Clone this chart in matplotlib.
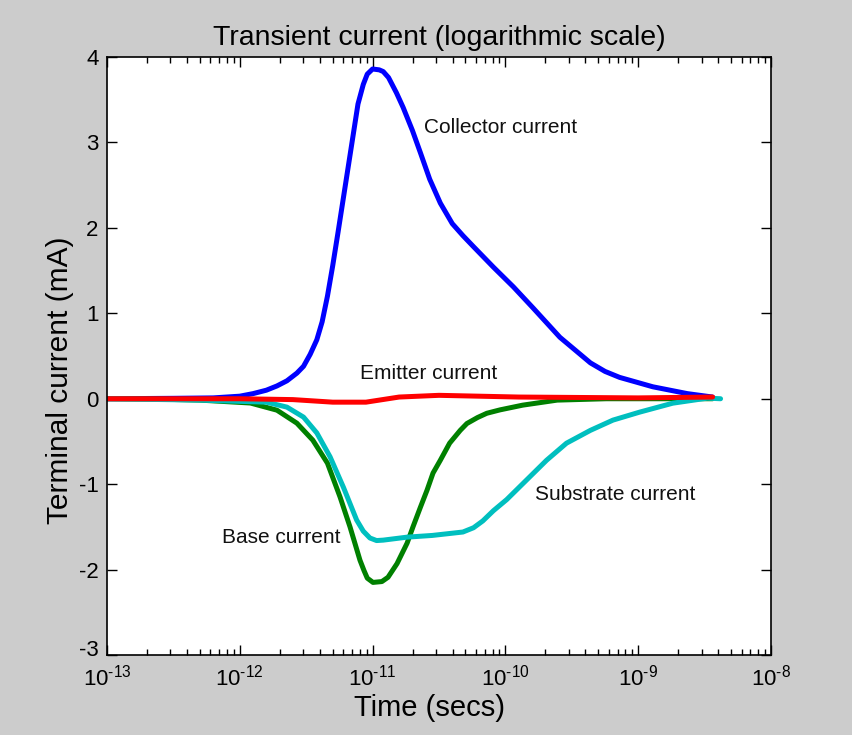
import numpy as np
import matplotlib
matplotlib.use("Agg")
import matplotlib.pyplot as plt
import matplotlib.transforms as mtransforms

plt.rcParams['font.family'] = ['Liberation Sans', 'DejaVu Sans']
plt.rcParams['mathtext.fontset'] = 'custom'
plt.rcParams['mathtext.rm'] = 'Liberation Sans'
plt.rcParams['mathtext.it'] = 'Liberation Sans'
plt.rcParams['axes.unicode_minus'] = False

# log10 of time (s) and current (mA)
collector_logt = [-13.0, -12.5, -12.2, -12.0, -11.9, -11.8, -11.72, -11.645, -11.57, -11.52,
                  -11.47, -11.42, -11.38, -11.34, -11.30, -11.26, -11.22, -11.18, -11.14,
                  -11.11, -11.07, -11.04, -11.0, -10.95, -10.92, -10.88, -10.82, -10.77,
                  -10.70, -10.64, -10.57, -10.49, -10.40, -10.32, -10.24, -10.09, -9.94,
                  -9.79, -9.59, -9.36, -9.25, -9.14, -8.89, -8.63, -8.44]
collector_ma = [0.0, 0.005, 0.01, 0.03, 0.06, 0.10, 0.15, 0.21, 0.30, 0.38,
                0.52, 0.69, 0.90, 1.20, 1.56, 1.95, 2.35, 2.75, 3.15,
                3.45, 3.68, 3.80, 3.86, 3.85, 3.83, 3.76, 3.58, 3.41,
                3.14, 2.88, 2.57, 2.29, 2.05, 1.91, 1.78, 1.54, 1.31,
                1.06, 0.72, 0.42, 0.32, 0.25, 0.14, 0.06, 0.02]

emitter_logt = [-13.0, -12.0, -11.6, -11.3, -11.05, -10.8, -10.5, -10.2, -9.9, -9.0, -8.44]
emitter_ma = [0.0, 0.0, -0.01, -0.04, -0.04, 0.02, 0.04, 0.03, 0.02, 0.01, 0.02]

base_logt = [-13.0, -12.6, -12.3, -11.92, -11.72, -11.57, -11.45, -11.34, -11.245, -11.17,
             -11.095, -11.065, -11.04, -10.997, -10.93, -10.884, -10.816, -10.74, -10.696,
             -10.64, -10.59, -10.545, -10.49, -10.42, -10.34, -10.29, -10.21, -10.14,
             -10.04, -9.87, -9.61, -9.24, -8.74, -8.44]
base_ma = [0.0, -0.005, -0.016, -0.05, -0.134, -0.286, -0.485, -0.754, -1.15, -1.50,
           -1.89, -2.01, -2.10, -2.15, -2.14, -2.09, -1.93, -1.69, -1.50,
           -1.27, -1.07, -0.87, -0.72, -0.52, -0.37, -0.29, -0.22, -0.17,
           -0.13, -0.075, -0.016, 0.0, 0.0, 0.0]

substrate_logt = [-13.0, -12.3, -11.80, -11.645, -11.52, -11.42, -11.32, -11.22, -11.12,
                  -11.07, -11.02, -10.97, -10.92, -10.74, -10.55, -10.32, -10.24, -10.17,
                  -10.09, -9.99, -9.84, -9.69, -9.54, -9.36, -9.19, -8.99, -8.74, -8.48, -8.38]
substrate_ma = [0.0, -0.016, -0.04, -0.098, -0.215, -0.40, -0.68, -1.035, -1.42,
                -1.55, -1.63, -1.66, -1.655, -1.62, -1.60, -1.56, -1.51, -1.43,
                -1.31, -1.18, -0.95, -0.72, -0.52, -0.37, -0.25, -0.157, -0.052, 0.007, 0.0]

x_tick_exponents = [-13, -12, -11, -10, -9, -8]
labels = ["Collector current", "Emitter current", "Base current", "Substrate current"]
label_pos_logt = [-10.04, -10.58, -11.69, -9.175]
label_pos_ma = [3.18, 0.29, -1.63, -1.12]

fig = plt.figure(figsize=(8.53, 7.35), dpi=100, facecolor='#cccccc')
ax = fig.add_axes([0.1254, 0.1088, 0.7785, 0.8136])
ax.set_facecolor('white')

lw = 3.6
for lt, ma, col in [(collector_logt, collector_ma, '#0000ff'),
                    (base_logt, base_ma, '#008000'),
                    (substrate_logt, substrate_ma, '#00bfbf'),
                    (emitter_logt, emitter_ma, '#ff0000')]:
    ax.plot(10.0 ** np.array(lt), ma, color=col, lw=lw,
            solid_joinstyle='round', solid_capstyle='round')

ax.set_xscale('log')
ax.set_xlim(1e-13, 1e-8)
ax.set_ylim(-3, 4)
ax.set_yticks(range(-3, 5))
ax.set_xticks([10.0 ** e for e in x_tick_exponents])
ax.set_xticklabels([r'$\mathdefault{10^{\text{-%d}}}$' % (-e) for e in x_tick_exponents])
ax.tick_params(which='both', direction='in', top=True, right=True, labelsize=16, width=1.0, color='black')
ax.tick_params(which='major', length=7)
ax.tick_params(axis='x', which='major', pad=7)
ax.tick_params(axis='y', which='major', pad=6)
ax.tick_params(which='minor', length=4)
ax.tick_params(axis='y', which='minor', left=False, right=False)
for s in ax.spines.values():
    s.set_linewidth(1.2)

# raise the lowest y tick label slightly, as in the reference
ylabs = ax.get_yticklabels()
ylabs[0].set_transform(ylabs[0].get_transform() +
                       mtransforms.ScaledTranslation(0, 5 / 72, fig.dpi_scale_trans))

for t, lx, ly in zip(labels, label_pos_logt, label_pos_ma):
    ax.text(10.0 ** lx, ly, t, fontsize=15, ha='center', va='center', color='#111111')

ax.set_title("Transient current (logarithmic scale)", fontsize=20.5, pad=9)
ax.set_xlabel("Time (secs)", fontsize=21)
ax.set_ylabel("Terminal current (mA)", fontsize=21.5)
ax.xaxis.set_label_coords(0.486, -0.066)
ax.yaxis.set_label_coords(-0.05, 0.46)

fig.savefig("out.png", dpi=100, facecolor=fig.get_facecolor())
